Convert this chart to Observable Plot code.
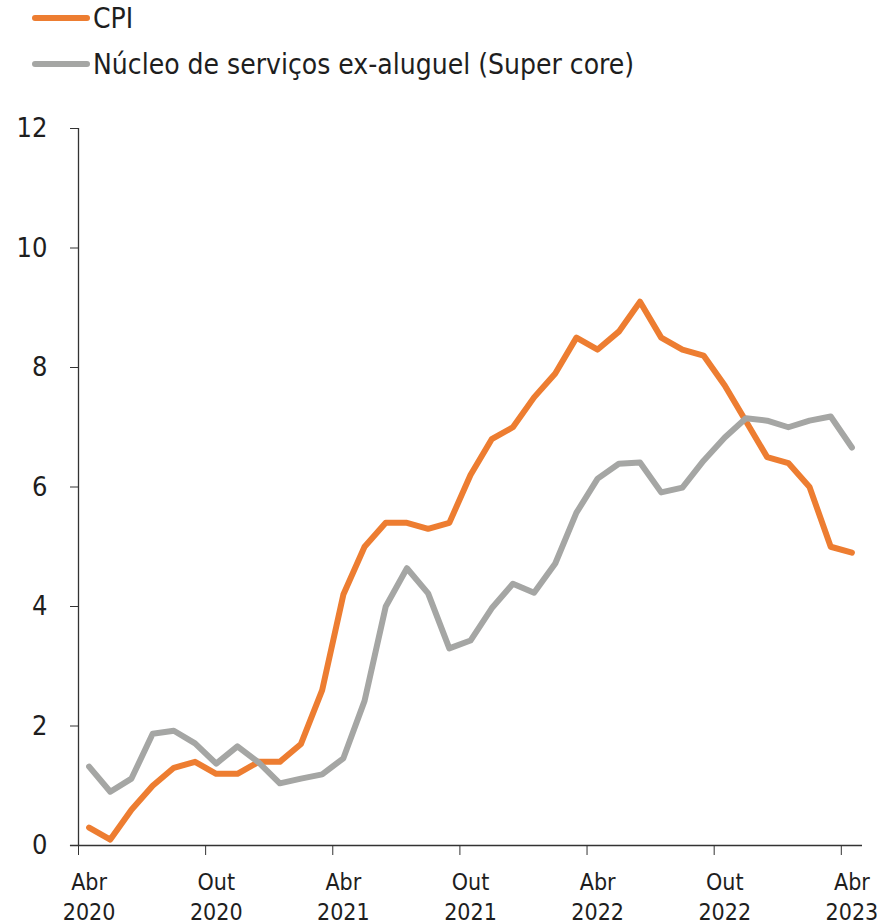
<!DOCTYPE html>
<html>
<head>
<meta charset="utf-8">
<script src="https://cdn.jsdelivr.net/npm/d3@7"></script>
<script src="https://cdn.jsdelivr.net/npm/@observablehq/plot@0.6"></script>
<style>
  html, body { margin: 0; padding: 0; background: #fff; }
  body { width: 877px; height: 923px; overflow: hidden; font-family: "Liberation Sans Narrow", "DejaVu Sans Condensed", "Liberation Sans", sans-serif; color: #1e1e1e; }
  #legend { position: relative; height: 90px; }
  .row { position: absolute; left: 0; display: flex; align-items: center; font-size: 28px; white-space: nowrap; }
  .sw { width: 58px; height: 6px; border-radius: 3px; margin-left: 32px; margin-right: 3px; }
  #chart svg { display: block; }
</style>
</head>
<body>
<div id="legend"></div>
<div id="chart"></div>
<script>
// Monthly, Apr 2020 – Apr 2023 (year-over-year %)
const months = ["2020-04","2020-05","2020-06","2020-07","2020-08","2020-09","2020-10","2020-11","2020-12",
  "2021-01","2021-02","2021-03","2021-04","2021-05","2021-06","2021-07","2021-08","2021-09","2021-10","2021-11","2021-12",
  "2022-01","2022-02","2022-03","2022-04","2022-05","2022-06","2022-07","2022-08","2022-09","2022-10","2022-11","2022-12",
  "2023-01","2023-02","2023-03","2023-04"];
const cpi = [0.3,0.1,0.6,1.0,1.3,1.4,1.2,1.2,1.4,1.4,1.7,2.6,
  4.2,5.0,5.4,5.4,5.3,5.4,6.2,6.8,7.0,7.5,7.9,8.5,
  8.3,8.6,9.1,8.5,8.3,8.2,7.7,7.1,6.5,6.4,6.0,5.0,
  4.9];
const supercore = [1.32,0.9,1.12,1.87,1.92,1.71,1.37,1.66,1.39,1.04,1.12,1.19,
  1.46,2.42,4.0,4.64,4.22,3.3,3.43,3.97,4.38,4.23,4.72,5.57,
  6.14,6.39,6.41,5.91,5.99,6.44,6.83,7.15,7.11,7.0,7.11,7.18,
  6.66];
const seriesNames = ["CPI", "Núcleo de serviços ex-aluguel (Super core)"];
const seriesColors = ["#ED7D31", "#A5A6A4"];
const xTickLabels = ["Abr\n2020","Out\n2020","Abr\n2021","Out\n2021","Abr\n2022","Out\n2022","Abr\n2023"];
const yTicks = [0, 2, 4, 6, 8, 10, 12];

// Legend
const legend = document.getElementById("legend");
seriesNames.forEach((name, k) => {
  const row = document.createElement("div");
  row.className = "row";
  row.style.top = (k === 0 ? 0 : 46) + "px";
  row.style.height = "36px";
  const sw = document.createElement("div");
  sw.className = "sw";
  sw.style.background = seriesColors[k];
  const t = document.createElement("span");
  t.textContent = name;
  row.appendChild(sw); row.appendChild(t);
  legend.appendChild(row);
});

const idx = months.map((_, i) => i);
const cpiData = idx.map(i => ({i, value: cpi[i]}));
const scData = idx.map(i => ({i, value: supercore[i]}));
const labelIdx = xTickLabels.map((_, k) => k * 6);
const boundaries = xTickLabels.map((_, k) => k * 6 - 0.5);
const n = months.length;

const chart = Plot.plot({
  width: 877,
  height: 833,
  marginTop: 38,
  marginBottom: 78,
  marginLeft: 78,
  marginRight: 15,
  style: {fontFamily: '"Liberation Sans Narrow", "DejaVu Sans Condensed", "Liberation Sans", sans-serif', color: "#1e1e1e", background: "#fff", overflow: "visible"},
  x: {domain: [-0.5, n - 0.5]},
  y: {domain: [0, 12]},
  marks: [
    Plot.axisY({ticks: yTicks, tickSize: 8, tickPadding: 23, fontSize: 27, stroke: "#333", label: null}),
    Plot.ruleX([-0.5], {stroke: "#333", strokeWidth: 1.3}),
    Plot.ruleY([0], {x1: -0.88, x2: n - 0.5, stroke: "#333", strokeWidth: 1.3}),
    Plot.axisX({ticks: boundaries, tickSize: 10, tickFormat: () => "", stroke: "#333", label: null}),
    Plot.axisX({ticks: labelIdx, tickSize: 0, tickPadding: 23, fontSize: 23, lineHeight: 1.3,
      tickFormat: d => xTickLabels[d / 6], label: null}),
    Plot.line(cpiData, {x: "i", y: "value", stroke: seriesColors[0], strokeWidth: 6, strokeLinejoin: "round", strokeLinecap: "round"}),
    Plot.line(scData, {x: "i", y: "value", stroke: seriesColors[1], strokeWidth: 6, strokeLinejoin: "round", strokeLinecap: "round"})
  ]
});
document.getElementById("chart").appendChild(chart);
</script>
</body>
</html>
